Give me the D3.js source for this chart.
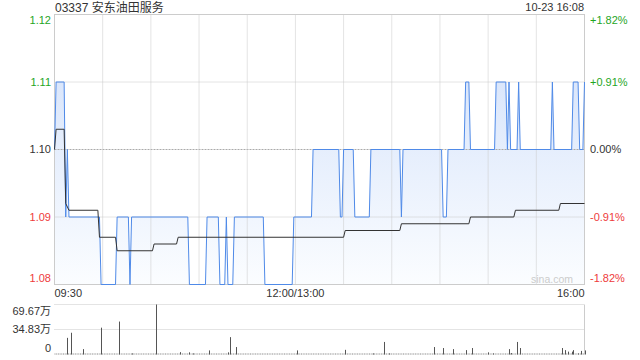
<!DOCTYPE html>
<html>
<head>
<meta charset="UTF-8">
<script src="https://d3js.org/d3.v7.min.js"></script>
<title>03337 安东油田服务</title>
<style>
body{margin:0;background:#fff}
text{font-family:"Liberation Sans",Arial,"Noto Sans CJK SC",sans-serif}
</style>
</head>
<body>
<div id="container"></div>
<script>
var title = "03337 安东油田服务",
    stamp = "10-23 16:08"

// 价格刻度
var priceTicks = [1.08, 1.09, 1.10, 1.11, 1.12]
var pctLabels = ["-1.82%", "-0.91%", "0.00%", "+0.91%", "+1.82%"]
var timeTicks = ["09:30", "12:00", "16:00"]
var timeLabels = ["09:30", "12:00/13:00", "16:00"]
var gridTimes = ["10:00","10:30","11:00","11:30","12:00","13:30","14:00","14:30","15:00","15:30"]

// 分时价格 (拐点)
var priceTimes = ["09:30","09:31","09:36","09:37","09:38","09:39","09:58","09:59","10:08","10:09",
  "10:16","10:17","10:18","10:53","10:54","11:04","11:05","11:12","11:13","11:16",
  "11:17","11:18","11:21","11:22","11:40","11:41","11:58","11:59","13:10","13:11",
  "13:27","13:28","13:29","13:30","13:36","13:37","13:46","13:47","14:05","14:06",
  "14:07","14:31","14:32","14:34","14:35","14:45","14:46","14:48","14:49","15:04",
  "15:05","15:11","15:12","15:13","15:14","15:18","15:19","15:20","15:39","15:40",
  "15:41","15:52","15:53","15:56","15:57","15:59","16:00"]
var prices = [1.10,1.11,1.11,1.09,1.10,1.09,1.09,1.08,1.08,1.09,
  1.09,1.08,1.09,1.09,1.08,1.08,1.09,1.09,1.08,1.08,
  1.09,1.08,1.08,1.09,1.09,1.08,1.08,1.09,1.09,1.10,
  1.10,1.09,1.09,1.10,1.10,1.09,1.09,1.10,1.10,1.09,
  1.10,1.10,1.09,1.09,1.10,1.10,1.11,1.11,1.10,1.10,
  1.11,1.11,1.10,1.11,1.10,1.10,1.11,1.10,1.10,1.11,
  1.10,1.10,1.11,1.11,1.10,1.10,1.11]

// 均价
var avgTimes = ["09:30","09:31","09:36","09:37","09:39","09:57","09:58","10:08","10:09","10:31",
  "10:32","10:46","10:47","13:30","13:31","14:05","14:06","14:48","14:49","15:16",
  "15:17","15:44","15:45","16:00"]
var avgPrices = [1.100,1.103,1.103,1.092,1.091,1.091,1.087,1.087,1.085,1.085,
  1.086,1.086,1.087,1.087,1.088,1.088,1.089,1.089,1.090,1.090,
  1.091,1.091,1.092,1.092]

// 成交量 (万)
var volTimes = ["09:38","09:40","09:48","09:59","10:10","10:18","10:33","10:48","10:54","10:56",
  "11:06","11:18","11:19","11:23","13:01","13:31","13:48","13:55","13:58","14:26",
  "14:32","14:38","14:46","14:50","15:00","15:03","15:13","15:14","15:18","15:20",
  "15:46","15:48","15:50","15:52","15:53","15:56","15:58","16:00"]
var volumes = [23.2,30.3,7.5,37.4,45.9,1.5,69.67,3.3,3.0,1.5,
  5.7,3.0,24.2,10.4,5.7,6.5,1.5,17.5,1.5,10.4,
  9.0,7.5,6.1,9.0,3.0,1.5,7.5,2.0,17.5,9.0,
  9.0,6.1,4.0,4.0,6.1,1.5,5.0,5.7]
var volTicks = [0, 34.83, 69.67]
var volLabels = ["0", "34.83万", "69.67万"]

var green = "#1fa61f", red = "#ee3b3b", dark = "#333"

// 时间转为分钟序号(午休合并)
function toIndex(t){
  var p = t.split(":"), mins = (+p[0])*60 + (+p[1])
  return mins <= 720 ? mins - 570 : 150 + mins - 780
}

var svg = d3.select("#container").append("svg")
  .attr("width", 640).attr("height", 360)

var x = d3.scaleLinear().domain([0, 330]).range([54.5, 584.5])
var yP = d3.scaleLinear().domain([1.08, 1.12]).range([284.5, 14.5])
var yV = d3.scaleLinear().domain([0, 69.67]).range([354.5, 304.5])

var pData = priceTimes.map(function(t, i){ return [toIndex(t), prices[i]] })
var aData = avgTimes.map(function(t, i){ return [toIndex(t), avgPrices[i]] })

// 渐变填充
var grad = svg.append("defs").append("linearGradient")
  .attr("id", "fill").attr("gradientUnits", "userSpaceOnUse")
  .attr("x1", 0).attr("y1", yP(1.12)).attr("x2", 0).attr("y2", yP(1.08))
grad.append("stop").attr("offset", 0).attr("stop-color", "#d0dffa")
grad.append("stop").attr("offset", 1).attr("stop-color", "#fbfdff")

svg.append("path")
  .attr("d", d3.area().x(function(d){ return x(d[0]) }).y0(yP(1.08)).y1(function(d){ return yP(d[1]) })(pData))
  .attr("fill", "url(#fill)")

// 网格
svg.selectAll(".hgrid").data([1.09, 1.11]).enter().append("line")
  .attr("x1", x(0)).attr("x2", x(330))
  .attr("y1", function(d){ return yP(d) }).attr("y2", function(d){ return yP(d) })
  .attr("stroke", "#c8c8c8").attr("stroke-dasharray", "1,1")
svg.append("line")
  .attr("x1", x(0)).attr("x2", x(330)).attr("y1", yP(1.10)).attr("y2", yP(1.10))
  .attr("stroke", "#aaa").attr("stroke-dasharray", "2,1")
svg.selectAll(".vgrid").data(gridTimes).enter().append("line")
  .attr("x1", function(d){ return x(toIndex(d)) }).attr("x2", function(d){ return x(toIndex(d)) })
  .attr("y1", yP(1.12)).attr("y2", yP(1.08))
  .attr("stroke", "#c8c8c8").attr("stroke-dasharray", "1,1")
svg.append("rect")
  .attr("x", x(0)).attr("y", yP(1.12)).attr("width", x(330) - x(0)).attr("height", yP(1.08) - yP(1.12))
  .attr("fill", "none").attr("stroke", "#ccc")

svg.append("text").text("sina.com")
  .attr("x", 573).attr("y", 283).attr("text-anchor", "end")
  .attr("font-size", "10.5px").attr("fill", "#ccc")

// 价格线和均价线
svg.append("path")
  .attr("d", d3.line().x(function(d){ return x(d[0]) }).y(function(d){ return yP(d[1]) })(pData))
  .attr("fill", "none").attr("stroke", "#4f8ae8").attr("stroke-width", 1)
svg.append("path")
  .attr("d", d3.line().x(function(d){ return x(d[0]) }).y(function(d){ return yP(d[1]) })(aData))
  .attr("fill", "none").attr("stroke", dark).attr("stroke-width", 1)

// 左右刻度
function tickColor(i){ return i < 2 ? red : (i > 2 ? green : dark) }
function tickY(d, i, n){
  var y = yP(d)
  if (i == 0) y -= 6
  if (i == n - 1) y += 6
  return y
}
svg.selectAll(".lt").data(priceTicks).enter().append("text")
  .text(function(d){ return d.toFixed(2) })
  .attr("x", 51).attr("y", function(d, i){ return tickY(d, i, priceTicks.length) })
  .attr("dy", "0.35em").attr("text-anchor", "end")
  .attr("font-size", "11px").attr("fill", function(d, i){ return tickColor(i) })
svg.selectAll(".rt").data(priceTicks).enter().append("text")
  .text(function(d, i){ return pctLabels[i] })
  .attr("x", 590).attr("y", function(d, i){ return tickY(d, i, priceTicks.length) })
  .attr("dy", "0.35em")
  .attr("font-size", "11px").attr("fill", function(d, i){ return tickColor(i) })

svg.selectAll(".xt").data(timeTicks).enter().append("text")
  .text(function(d, i){ return timeLabels[i] })
  .attr("x", function(d){ return x(toIndex(d)) }).attr("y", 297)
  .attr("text-anchor", function(d, i){ return i == 0 ? "start" : (i == 2 ? "end" : "middle") })
  .attr("font-size", "11px").attr("fill", dark)

svg.append("text").text(title).attr("x", 55).attr("y", 11.5)
  .attr("font-size", "12px").attr("fill", dark)
svg.append("text").text(stamp).attr("x", 584).attr("y", 11)
  .attr("text-anchor", "end").attr("font-size", "11px").attr("fill", dark)

// 成交量
svg.selectAll(".vg").data(volTicks.slice(1)).enter().append("line")
  .attr("x1", x(0)).attr("x2", x(330))
  .attr("y1", function(d){ return yV(d) }).attr("y2", function(d){ return yV(d) })
  .attr("stroke", "#c8c8c8").attr("stroke-dasharray", "1,1")
svg.append("line")
  .attr("x1", x(330)).attr("x2", x(330)).attr("y1", yV(69.67)).attr("y2", yV(0))
  .attr("stroke", "#ccc")
svg.append("line")
  .attr("x1", x(0)).attr("x2", x(330)).attr("y1", yV(0) - 0.5).attr("y2", yV(0) - 0.5)
  .attr("stroke", "#888").attr("stroke-dasharray", "1,0.7")
svg.selectAll(".bar").data(volTimes).enter().append("line")
  .attr("x1", function(d){ return Math.round(x(toIndex(d))) + 0.5 })
  .attr("x2", function(d){ return Math.round(x(toIndex(d))) + 0.5 })
  .attr("y1", yV(0)).attr("y2", function(d, i){ return yV(volumes[i]) })
  .attr("stroke", "#555")
svg.selectAll(".vt").data(volTicks).enter().append("text")
  .text(function(d, i){ return volLabels[i] })
  .attr("x", 51).attr("y", function(d, i){ return yV(d) + (i == 0 ? -6.5 : (i == 2 ? 6.5 : 0)) })
  .attr("dy", "0.35em").attr("text-anchor", "end")
  .attr("font-size", "11px").attr("fill", dark)
</script>
</body>
</html>
